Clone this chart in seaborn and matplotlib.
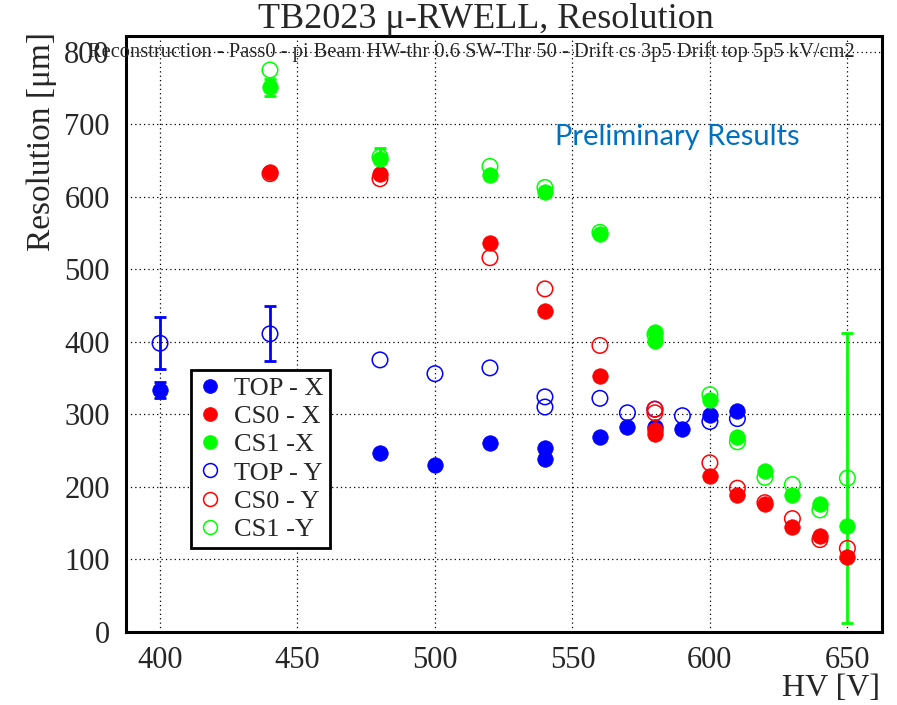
import numpy as np
import pandas as pd
import matplotlib
matplotlib.use("Agg")
import matplotlib.pyplot as plt
import matplotlib.ticker as mticker
from matplotlib.lines import Line2D
import seaborn as sns

# ---------------------------------------------------------------
# Data
# ---------------------------------------------------------------
hv_top_x  = [400, 480, 500, 520, 540, 540, 560, 570, 580, 590, 600, 610]
res_top_x = [333, 246, 230, 261, 254, 238, 269, 283, 283, 280, 299, 304]
err_top_x = [11, 0, 0, 0, 0, 0, 0, 0, 0, 0, 0, 0]

hv_cs0_x  = [440, 480, 520, 540, 560, 580, 580, 600, 610, 620, 630, 640, 650]
res_cs0_x = [634, 631, 536, 443, 353, 278, 273, 215, 189, 176, 145, 132, 103]
err_cs0_x = [0, 0, 0, 0, 0, 0, 0, 0, 0, 0, 0, 0, 0]

hv_cs1_x  = [440, 480, 520, 540, 560, 580, 580, 600, 610, 620, 630, 640, 650]
res_cs1_x = [751, 652, 630, 607, 549, 413, 401, 320, 269, 222, 189, 176, 146]
err_cs1_x = [12, 15, 0, 0, 0, 0, 0, 0, 0, 0, 0, 0, 0]

hv_top_y  = [400, 440, 480, 500, 520, 540, 540, 560, 570, 580, 590, 600, 610]
res_top_y = [398, 411, 375, 356, 364, 324, 310, 322, 302, 307, 298, 290, 294]
err_top_y = [36, 38, 0, 0, 0, 0, 0, 0, 0, 0, 0, 0, 0]

hv_cs0_y  = [440, 480, 520, 540, 560, 580, 580, 600, 610, 620, 630, 640, 650]
res_cs0_y = [632, 625, 516, 473, 395, 307, 302, 233, 198, 178, 156, 127, 115]
err_cs0_y = [0, 0, 0, 0, 0, 0, 0, 0, 0, 0, 0, 0, 0]

hv_cs1_y  = [440, 480, 520, 540, 560, 580, 600, 610, 620, 630, 640, 650]
res_cs1_y = [775, 655, 642, 613, 551, 410, 327, 262, 213, 203, 168, 212]
err_cs1_y = [0, 0, 0, 0, 0, 0, 0, 0, 0, 0, 0, 200]

SERIES = [
    ("TOP - X", hv_top_x, res_top_x, err_top_x, "#0000FF", True),
    ("CS0 - X", hv_cs0_x, res_cs0_x, err_cs0_x, "#FF0000", True),
    ("CS1 -X",  hv_cs1_x, res_cs1_x, err_cs1_x, "#00FF00", True),
    ("TOP - Y", hv_top_y, res_top_y, err_top_y, "#0000FF", False),
    ("CS0 - Y", hv_cs0_y, res_cs0_y, err_cs0_y, "#FF0000", False),
    ("CS1 -Y",  hv_cs1_y, res_cs1_y, err_cs1_y, "#00FF00", False),
]

TITLE    = "TB2023 \u03bc-RWELL, Resolution"
SUBTITLE = ("Reconstruction - Pass0 - pi Beam HW-thr 0.6 SW-Thr 50 - "
            "Drift cs 3p5 Drift top 5p5 kV/cm2")

# ---------------------------------------------------------------
# Style (ROOT-like)
# ---------------------------------------------------------------
sns.set_theme(style="white")
plt.rcParams["font.family"] = ["Liberation Serif", "DejaVu Serif"]

fig = plt.figure(figsize=(8.97, 7.05), dpi=100)
ax = fig.add_axes([0.141, 0.104, 0.842, 0.845])

for label, hv, res, err, color, filled in SERIES:
    df = pd.DataFrame({"HV": hv, "res": res, "err": err})
    bars = df[df["err"] > 0]
    if len(bars):
        ax.errorbar(bars["HV"], bars["res"], yerr=bars["err"], fmt="none",
                    ecolor=color, elinewidth=2.0, capsize=4.5, capthick=2.0,
                    zorder=3)
    if filled:
        sns.scatterplot(data=df, x="HV", y="res", ax=ax, color=color,
                        edgecolor=color, s=125, linewidth=0.5,
                        legend=False, zorder=4)
    else:
        sns.scatterplot(data=df, x="HV", y="res", ax=ax, color=color,
                        facecolors="none", edgecolor=color, s=125,
                        linewidth=1.1, legend=False, zorder=5)

ax.set_xlim(387.8, 662.5)
ax.set_ylim(0, 822)
ax.set_xlabel("")
ax.set_ylabel("")

ax.xaxis.set_major_locator(mticker.MultipleLocator(50))
ax.xaxis.set_minor_locator(mticker.MultipleLocator(10))
ax.yaxis.set_major_locator(mticker.MultipleLocator(100))
ax.yaxis.set_minor_locator(mticker.MultipleLocator(20))

ax.tick_params(axis="both", which="both", direction="in", width=1.6,
               color="black", labelsize=22, top=False, right=False)
ax.tick_params(axis="x", which="major", length=12, pad=10)
ax.tick_params(axis="x", which="minor", length=6)
ax.tick_params(axis="y", which="major", length=16, pad=12)
ax.tick_params(axis="y", which="minor", length=8)

ax.grid(True, which="major", color="black", linestyle=(0, (1, 2.5)),
        linewidth=0.9)
for sp in ax.spines.values():
    sp.set_color("black")
    sp.set_linewidth(2.2)
    sp.set_visible(True)

# texts
fig.text(0.542, 0.972, TITLE, ha="center", va="center", fontsize=26)
fig.text(0.098, 0.926, SUBTITLE, ha="left", va="center", fontsize=14.8)
fig.text(0.981, 0.024, "HV [V]", ha="right", va="center", fontsize=23)
fig.text(0.046, 0.955, "Resolution [\u03bcm]", ha="center", va="top",
         rotation=90, fontsize=24)
fig.text(0.755, 0.806, "Preliminary Results", ha="center", va="center",
         fontsize=21, color="#0070C0", family=["Lato", "DejaVu Sans"])

# legend
handles = []
for label, hv, res, err, color, filled in SERIES:
    handles.append(Line2D([], [], linestyle="none", marker="o",
                          markersize=10,
                          markerfacecolor=color if filled else "none",
                          markeredgecolor=color,
                          markeredgewidth=0.5 if filled else 1.1,
                          label=label))
leg = ax.legend(handles=handles, loc="upper left",
                bbox_to_anchor=(0.2126, 0.4752),
                bbox_transform=fig.transFigure, fontsize=19,
                frameon=True, fancybox=False, framealpha=1,
                edgecolor="black", borderpad=0.25, labelspacing=0.18,
                handlelength=1.0, handletextpad=0.4, borderaxespad=0)
leg.get_frame().set_linewidth(2.0)

fig.savefig("out.png", dpi=100)
